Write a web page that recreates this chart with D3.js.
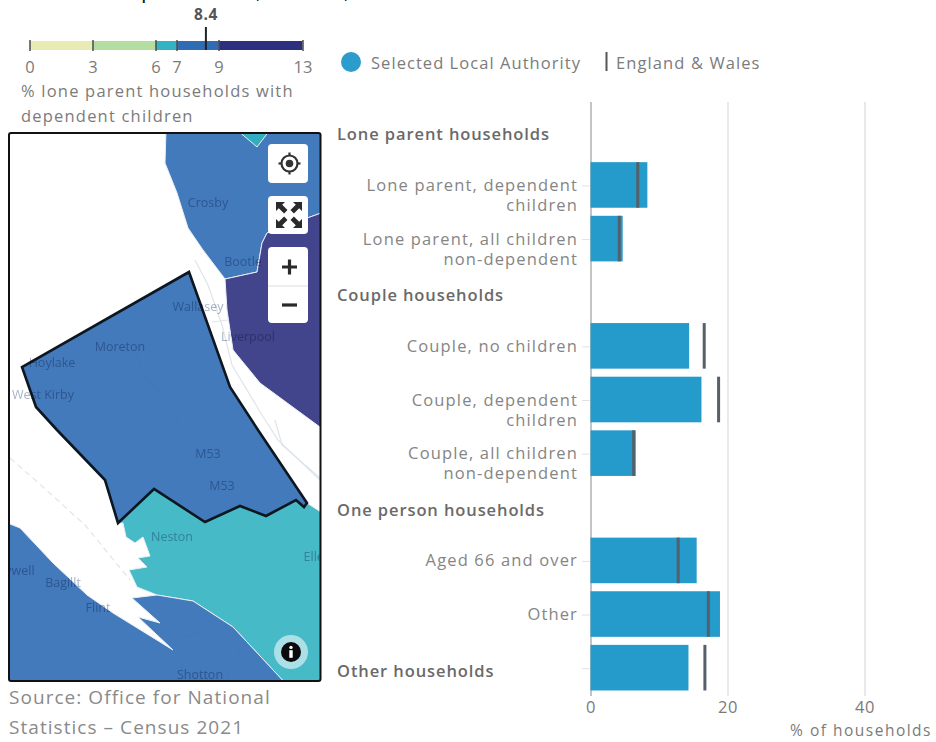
<!DOCTYPE html>
<html>
<head>
<meta charset="utf-8">
<script src="https://cdnjs.cloudflare.com/ajax/libs/d3/7.8.5/d3.min.js"></script>
<style>
  html, body { margin: 0; padding: 0; background: #ffffff; overflow: hidden; }
  svg { display: block; font-family: "Open Sans", sans-serif; }
  text { fill: #7b7b7b; }
  .domain { display: none; }
  .place { mix-blend-mode: multiply; }
</style>
</head>
<body>
<div id="visualization"></div>
<script>
// Chart rows, top to bottom. Headers have no bar unless they carry values.
const rows = [
  'Lone parent households',
  'Lone parent, dependent children',
  'Lone parent, all children non-dependent',
  'Couple households',
  'Couple, no children',
  'Couple, dependent children',
  'Couple, all children non-dependent',
  'One person households',
  'Aged 66 and over',
  'Other',
  'Other households'
];
const headers = ['Lone parent households', 'Couple households', 'One person households', 'Other households'];
const barNames = [
  'Lone parent, dependent children',
  'Lone parent, all children non-dependent',
  'Couple, no children',
  'Couple, dependent children',
  'Couple, all children non-dependent',
  'Aged 66 and over',
  'Other',
  'Other households'
];
const localValues = [8.3, 4.7, 14.4, 16.2, 6.6, 15.5, 18.9, 14.3];
const englandValues = [6.9, 4.2, 16.6, 18.7, 6.3, 12.8, 17.2, 16.7];
const xTicks = [0, 20, 40];

// Map legend.
const breaks = [0, 3, 6, 7, 9, 13];
const breakColours = ['#e8ecb4', '#b4dea0', '#33b2c2', '#2f6cb4', '#2d307f'];
const selectedValue = 8.4;

// Map areas in map space, with the value that picks their colour.
const areaNames = ['Sefton', 'Liverpool', 'Wirral', 'Cheshire West', 'Flintshire', 'Knowsley'];
const areaValues = [8.0, 10.5, 8.4, 6.6, 8.1, 6.5];
const areaOutlines = [
  [[166,130],[165,163],[177,193],[188,228],[203,250],[225,279],[257,272],[262,243],[267,233],[310,217],[324,212],[324,130]],
  [[225,279],[257,272],[262,243],[267,233],[310,217],[324,212],[324,430],[260,383],[233,350],[227,310]],
  [[189,272],[22,367],[36,407],[57,430],[105,480],[118,523],[154,489],[205,522],[240,506],[266,516],[296,500],[304,507],[307,503],[258,430],[230,387]],
  [[118,523],[154,489],[205,522],[240,506],[266,516],[296,500],[304,507],[307,503],[324,514],[324,685],[287,685],[233,627],[193,601],[157,595],[137,587],[129,570],[147,567],[138,558],[150,556],[143,537],[135,543],[126,537],[123,523]],
  [[5,522],[20,528],[53,563],[87,595],[113,613],[173,650],[138,617],[160,623],[132,598],[157,595],[193,601],[233,627],[287,685],[5,685]],
  [[237,130],[257,147],[270,130]]
];
const selectedArea = 'Wirral';
const roadLines = [
  [[195,260],[208,285],[222,325],[232,365],[262,415],[278,440],[320,480]],
  [[212,322],[228,320]],
  [[135,350],[142,372],[162,395],[180,425]],
  [[275,420],[282,445],[320,478]],
  [[150,560],[210,600],[255,640]],
  [[90,640],[120,681]],
  [[175,640],[225,625],[240,650],[225,681]]
];
const estuaryLine = [[10,458],[43,487],[85,525],[130,580]];
const placeNames = ['Crosby', 'Bootle', 'Wallasey', 'Liverpool', 'Moreton', 'Hoylake', 'West Kirby', 'M53', 'M53', 'Neston', 'Ellesmere Port', 'Holywell', 'Bagillt', 'Flint', 'Shotton'];
const placeSpots = [[208,203],[243,262],[198,307],[248,337],[120,347],[52,363],[43,395],[208,454],[222,486],[172,537],[346,557],[10,571],[63,583],[98,608],[200,675]];

const width = 936;
const height = 742;

const svg = d3.select('#visualization')
  .append('svg')
  .attr('width', width)
  .attr('height', height);

// What is left of the page heading above the crop.
svg.append('g')
  .selectAll('text')
  .data([['p', 141], [',', 256], [',', 344]])
  .join('text')
  .attr('x', (d) => d[1])
  .attr('y', -2)
  .style('fill', '#111111')
  .style('font-size', '22px')
  .text((d) => d[0]);

// Legend for the map.
const legendX = d3.scaleLinear().domain([0, 13]).range([29.5, 302.5]);
const colour = d3.scaleThreshold().domain(breaks.slice(1, -1)).range(breakColours);

const legend = svg.append('g');
legend.selectAll('rect')
  .data(breakColours)
  .join('rect')
  .attr('x', (d, i) => legendX(breaks[i]))
  .attr('y', 41)
  .attr('width', (d, i) => legendX(breaks[i + 1]) - legendX(breaks[i]))
  .attr('height', 9)
  .attr('fill', (d) => d);

const legendAxis = legend.append('g')
  .attr('transform', 'translate(0,40)')
  .call(d3.axisBottom(legendX).tickValues(breaks).tickFormat(d3.format('d')).tickSize(11).tickPadding(10));
legendAxis.selectAll('line').attr('stroke', '#4d4d4d').attr('stroke-width', 1.5);
legendAxis.selectAll('text')
  .style('font-size', '16.5px')
  .style('font-family', '"Open Sans", sans-serif');

legend.append('line')
  .attr('x1', legendX(selectedValue))
  .attr('x2', legendX(selectedValue))
  .attr('y1', 27)
  .attr('y2', 50)
  .attr('stroke', '#222222')
  .attr('stroke-width', 2);
legend.append('text')
  .attr('x', legendX(selectedValue))
  .attr('y', 20)
  .attr('text-anchor', 'middle')
  .style('font-size', '15.5px')
  .style('font-weight', 700)
  .style('letter-spacing', '0.6px')
  .style('fill', '#555555')
  .text(selectedValue);

legend.selectAll('.legend-title')
  .data(['% lone parent households with', 'dependent children'])
  .join('text')
  .attr('class', 'legend-title')
  .attr('x', 21)
  .attr('y', (d, i) => 97 + i * 25)
  .style('font-size', '16.5px')
  .style('letter-spacing', '1.2px')
  .text((d) => d);

// Map.
const map = svg.append('g');
svg.append('clipPath')
  .attr('id', 'map-clip')
  .append('rect')
  .attr('x', 9)
  .attr('y', 133)
  .attr('width', 311.5)
  .attr('height', 548);

const mapInner = map.append('g')
  .attr('clip-path', 'url(#map-clip)')
  .style('isolation', 'isolate');
mapInner.append('rect').attr('x', 9).attr('y', 133).attr('width', 312).attr('height', 548).attr('fill', '#ffffff');

const mapLine = d3.line();

mapInner.selectAll('.road')
  .data(roadLines)
  .join('path')
  .attr('class', 'road')
  .attr('d', mapLine)
  .attr('fill', 'none')
  .attr('stroke', '#dfe5e9')
  .attr('stroke-width', 1.2);
mapInner.append('path')
  .attr('d', mapLine(estuaryLine))
  .attr('fill', 'none')
  .attr('stroke', '#ece2e2')
  .attr('stroke-width', 1.2)
  .attr('stroke-dasharray', '6 4');

mapInner.selectAll('.area')
  .data(areaNames)
  .join('path')
  .attr('class', 'area')
  .attr('d', (d, i) => mapLine(areaOutlines[i]) + 'Z')
  .attr('fill', (d, i) => colour(areaValues[i]))
  .attr('fill-opacity', 0.9)
  .attr('stroke', '#e8eef5')
  .attr('stroke-width', 1);

mapInner.append('path')
  .attr('d', mapLine(areaOutlines[areaNames.indexOf(selectedArea)]) + 'Z')
  .attr('fill', 'none')
  .attr('stroke', '#0e1620')
  .attr('stroke-width', 2.6);

// Place names multiply, so they read grey on white and darker over the areas.
mapInner.selectAll('.place')
  .data(placeNames)
  .join('text')
  .attr('class', 'place')
  .attr('x', (d, i) => placeSpots[i][0])
  .attr('y', (d, i) => placeSpots[i][1] + 4)
  .attr('text-anchor', 'middle')
  .style('font-size', '12.5px')
  .style('fill', '#a9b3c6')
  .text((d) => d);

map.append('rect')
  .attr('x', 9)
  .attr('y', 133)
  .attr('width', 311.5)
  .attr('height', 548)
  .attr('rx', 2)
  .attr('fill', 'none')
  .attr('stroke', '#111111')
  .attr('stroke-width', 2);

// Map controls.
const controls = map.append('g');
[[268, 144, 40, 39], [268, 196, 40, 38], [268, 247, 40, 76]].forEach((b) => {
  controls.append('rect')
    .attr('x', b[0]).attr('y', b[1]).attr('width', b[2]).attr('height', b[3])
    .attr('rx', 4).attr('fill', '#ffffff');
});
controls.append('line').attr('x1', 268).attr('x2', 308).attr('y1', 286).attr('y2', 286).attr('stroke', '#dddddd');

const locate = controls.append('g').attr('transform', 'translate(289.5,163.5)');
locate.append('circle').attr('r', 8).attr('fill', 'none').attr('stroke', '#333333').attr('stroke-width', 2.2);
locate.append('circle').attr('r', 3.8).attr('fill', '#333333');
locate.selectAll('line')
  .data([[0, -8, 0, -11], [0, 8, 0, 11], [-8, 0, -11, 0], [8, 0, 11, 0]])
  .join('line')
  .attr('x1', (d) => d[0]).attr('y1', (d) => d[1]).attr('x2', (d) => d[2]).attr('y2', (d) => d[3])
  .attr('stroke', '#333333').attr('stroke-width', 2.2);

const expand = controls.append('g').attr('transform', 'translate(289,215)');
[[-1, -1], [1, -1], [-1, 1], [1, 1]].forEach((s) => {
  expand.append('path')
    .attr('transform', `scale(${s[0]},${s[1]})`)
    .attr('d', 'M13,13 L4,13 L6.8,10.2 L1.5,4.9 L4.9,1.5 L10.2,6.8 L13,4 Z')
    .attr('fill', '#2a2a2a');
});

controls.append('path').attr('d', 'M282,267 H297 M289.5,259.5 V274.5').attr('stroke', '#2a2a2a').attr('stroke-width', 3.2);
controls.append('path').attr('d', 'M282,305 H297').attr('stroke', '#2a2a2a').attr('stroke-width', 3.2);

const info = controls.append('g').attr('transform', 'translate(291,652)');
info.append('circle').attr('r', 17).attr('fill', '#ffffff').attr('fill-opacity', 0.55);
info.append('circle').attr('r', 10).attr('fill', '#0b0b0b');
info.append('circle').attr('cy', -4.6).attr('r', 1.7).attr('fill', '#ffffff');
info.append('rect').attr('x', -1.7).attr('y', -1.8).attr('width', 3.4).attr('height', 7.6).attr('fill', '#ffffff');

// Source note.
svg.selectAll('.source')
  .data(['Source: Office for National', 'Statistics \u2013 Census 2021'])
  .join('text')
  .attr('class', 'source')
  .attr('x', 9)
  .attr('y', (d, i) => 704 + i * 30)
  .style('font-size', '19px')
  .style('letter-spacing', '1.05px')
  .style('fill', '#8a8a8a')
  .text((d) => d);

// Bar legend.
const key = svg.append('g');
key.append('circle').attr('cx', 351).attr('cy', 62).attr('r', 10).attr('fill', '#2b9ccb');
key.append('text').attr('x', 371).attr('y', 69).style('font-size', '16.5px').style('letter-spacing', '1.05px').text('Selected Local Authority');
key.append('line').attr('x1', 606.5).attr('x2', 606.5).attr('y1', 52).attr('y2', 71).attr('stroke', '#555555').attr('stroke-width', 2);
key.append('text').attr('x', 616).attr('y', 69).style('font-size', '16.5px').style('letter-spacing', '1.1px').text('England & Wales');

// Bar chart.
const x = d3.scaleLinear().domain([0, 40]).range([590.5, 864.5]);
const y = d3.scaleBand().domain(rows).range([104.5, 694.5]).paddingInner(0.15).paddingOuter(0.075);

const xAxis = svg.append('g')
  .attr('transform', 'translate(0,696)')
  .call(d3.axisBottom(x).tickValues(xTicks).tickSize(0).tickPadding(0));
xAxis.selectAll('text')
  .attr('y', 5)
  .style('font-size', '16.5px')
  .style('letter-spacing', '0.6px')
  .style('font-family', '"Open Sans", sans-serif');
xAxis.selectAll('.tick')
  .append('line')
  .attr('y1', 0)
  .attr('y2', -594)
  .attr('stroke', (d) => (d === 0 ? '#c4c4c4' : '#e2e2e2'))
  .attr('stroke-width', (d) => (d === 0 ? 2 : 1.5));

svg.append('text')
  .attr('x', 932)
  .attr('y', 736)
  .attr('text-anchor', 'end')
  .style('font-size', '15.5px')
  .style('letter-spacing', '1.5px')
  .text('% of households');

const chart = svg.append('g');

chart.selectAll('.row-tick')
  .data(barNames)
  .join('line')
  .attr('class', 'row-tick')
  .attr('x1', 582)
  .attr('x2', 590)
  .attr('y1', (d) => y(d) + y.bandwidth() / 2 + 1)
  .attr('y2', (d) => y(d) + y.bandwidth() / 2 + 1)
  .attr('stroke', '#e2e2e2');

chart.selectAll('.bar')
  .data(barNames)
  .join('rect')
  .attr('class', 'bar')
  .attr('x', x(0))
  .attr('y', (d) => y(d))
  .attr('width', (d, i) => x(localValues[i]) - x(0))
  .attr('height', y.bandwidth())
  .attr('fill', '#259bcb');

chart.selectAll('.england')
  .data(barNames)
  .join('line')
  .attr('class', 'england')
  .attr('x1', (d, i) => x(englandValues[i]))
  .attr('x2', (d, i) => x(englandValues[i]))
  .attr('y1', (d) => y(d))
  .attr('y2', (d) => y(d) + y.bandwidth())
  .attr('stroke', '#55606a')
  .attr('stroke-width', 3);

// Wrapped category labels, headers stay bold and flush left.
const wrapped = {
  'Lone parent, dependent children': ['Lone parent, dependent', 'children'],
  'Lone parent, all children non-dependent': ['Lone parent, all children', 'non-dependent'],
  'Couple, dependent children': ['Couple, dependent', 'children'],
  'Couple, all children non-dependent': ['Couple, all children', 'non-dependent']
};

chart.selectAll('.row-label')
  .data(rows)
  .join('text')
  .attr('class', 'row-label')
  .attr('text-anchor', (d) => (headers.includes(d) ? 'start' : 'end'))
  .style('font-weight', (d) => (headers.includes(d) ? 600 : 400))
  .style('font-size', '16.5px')
  .style('letter-spacing', (d) => (headers.includes(d) ? '0.9px' : '1.15px'))
  .style('fill', (d) => (headers.includes(d) ? '#6a6a6a' : '#858585'))
  .each(function (d) {
    const lines = wrapped[d] || [d];
    const mid = y(d) + y.bandwidth() / 2;
    d3.select(this).selectAll('tspan')
      .data(lines)
      .join('tspan')
      .attr('x', headers.includes(d) ? 337 : 578)
      .attr('y', (l, i) => mid + 6 + i * 20 + (headers.includes(d) ? 3 : 0))
      .text((l) => l);
  });
</script>
</body>
</html>
